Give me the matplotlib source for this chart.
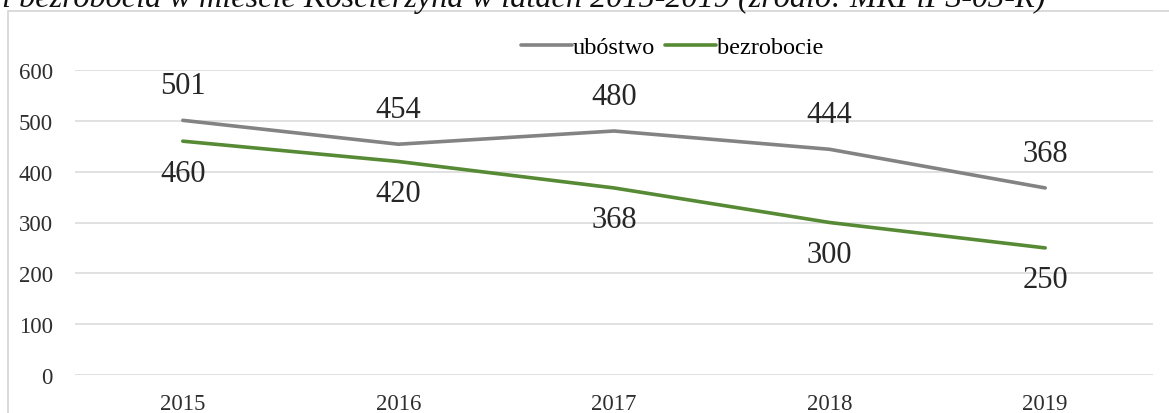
import matplotlib
matplotlib.use("Agg")
import matplotlib.pyplot as plt
from matplotlib.patches import Rectangle

# data
years = ["2015", "2016", "2017", "2018", "2019"]
ubostwo = [501, 454, 480, 444, 368]
bezrobocie = [460, 420, 368, 300, 250]
yticks = [0, 100, 200, 300, 400, 500, 600]
title_txt = "i bezrobocia w mieście Kościerzyna w latach 2015-2019 (źródło: MRPiPS-03-R)"

plt.rcParams["font.family"] = ["Liberation Serif", "DejaVu Serif"]

W, H, DPI = 1169, 414, 100
fig = plt.figure(figsize=(W / DPI, H / DPI), dpi=DPI)

# outer chart frame (light gray, cut off at right/bottom)
fig.patches.append(Rectangle((8 / W, -0.1), 1.2, 1 - 11.5 / H + 0.1, transform=fig.transFigure,
                             fill=False, edgecolor="#d4d4d4", lw=1.2))

# caption line above the chart, cut off at the top like in the source page
fig.text(2 / W, 1 - 7.5 / H, title_txt, fontsize=23.2, style="italic", color="#111111",
         ha="left", va="baseline")

ax = fig.add_axes([75 / W, 38 / H, (1153 - 75) / W, (376 - 71) / H])
x = range(len(years))
GRAY, GREEN = "#838383", "#578a34"
l1, = ax.plot(x, ubostwo, color=GRAY, lw=2.6, solid_capstyle="round", label="ubóstwo")
l2, = ax.plot(x, bezrobocie, color=GREEN, lw=2.6, solid_capstyle="round", label="bezrobocie")

for i, v in enumerate(ubostwo):
    ax.annotate(str(v), (i, v), xytext=(0, 25), textcoords="offset points",
                ha="center", va="center", fontsize=22, color="#262626")
for i, v in enumerate(bezrobocie):
    ax.annotate(str(v), (i, v), xytext=(0, -23), textcoords="offset points",
                ha="center", va="center", fontsize=22, color="#262626")

ax.set_xlim(-0.5, 4.5)
ax.set_ylim(0, 600)
ax.set_yticks(yticks)
ax.set_xticks(list(x))
ax.set_xticklabels(years)
ax.yaxis.grid(True, color="#d9d9d9", lw=1.1)
ax.set_axisbelow(True)
for s in ax.spines.values():
    s.set_visible(False)
ax.tick_params(axis="y", length=0, pad=16, labelsize=16.5, labelcolor="#2e2e2e")
ax.tick_params(axis="x", length=0, pad=13, labelsize=16.5, labelcolor="#2e2e2e")

fig.legend(handles=[l1, l2], loc="center", bbox_to_anchor=(672 / W, 1 - 48 / H), ncol=2,
           frameon=False, fontsize=17.5, handlelength=2.1, handletextpad=0.05,
           columnspacing=0.4, borderpad=0)

fig.savefig("out.png", dpi=DPI)
